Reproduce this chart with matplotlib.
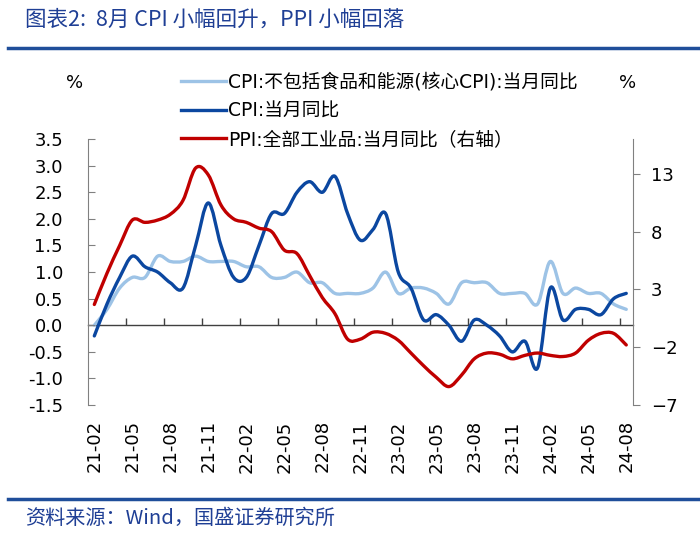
import numpy as np
import pandas as pd
import matplotlib
matplotlib.use("Agg")
import matplotlib.pyplot as plt
from matplotlib.path import Path
from matplotlib.patches import PathPatch
from matplotlib.lines import Line2D

plt.rcParams['font.family'] = ['DejaVu Sans', 'Noto Sans CJK SC']

# monthly, 2021-02 .. 2024-08
months = pd.period_range('2021-02', '2024-08', freq='M').strftime('%y-%m').tolist()

core_cpi = [0.0, 0.3, 0.7, 0.9, 0.9, 1.3, 1.2, 1.2, 1.3, 1.2, 1.2,
            1.2, 1.1, 1.1, 0.9, 0.9, 1.0, 0.8, 0.8, 0.6, 0.6, 0.6, 0.7,
            1.0, 0.6, 0.7, 0.7, 0.6, 0.4, 0.8, 0.8, 0.8, 0.6, 0.6, 0.6,
            0.4, 1.2, 0.6, 0.7, 0.6, 0.6, 0.4, 0.3]
cpi = [-0.2, 0.4, 0.9, 1.3, 1.1, 1.0, 0.8, 0.7, 1.5, 2.3, 1.5,
       0.9, 0.9, 1.5, 2.1, 2.1, 2.5, 2.7, 2.5, 2.8, 2.1, 1.6, 1.8,
       2.1, 1.0, 0.7, 0.1, 0.2, 0.0, -0.3, 0.1, 0.0, -0.2, -0.5, -0.3,
       -0.8, 0.7, 0.1, 0.3, 0.3, 0.2, 0.5, 0.6]
ppi = [1.7, 4.4, 6.8, 9.0, 8.8, 9.0, 9.5, 10.7, 13.5, 12.9, 10.3,
       9.1, 8.8, 8.3, 8.0, 6.4, 6.1, 4.2, 2.3, 0.9, -1.3, -1.3, -0.7,
       -0.8, -1.4, -2.5, -3.6, -4.6, -5.4, -4.4, -3.0, -2.5, -2.6, -3.0, -2.7,
       -2.5, -2.7, -2.8, -2.5, -1.4, -0.8, -0.8, -1.8]

tick_labels = ['21-02', '21-05', '21-08', '21-11', '22-02', '22-05', '22-08', '22-11',
               '23-02', '23-05', '23-08', '23-11', '24-02', '24-05', '24-08']
left_ticks = [-1.5, -1.0, -0.5, 0.0, 0.5, 1.0, 1.5, 2.0, 2.5, 3.0, 3.5]
right_ticks = [-7, -2, 3, 8, 13]

names = ['CPI:不包括食品和能源(核心CPI):当月同比', 'CPI:当月同比', 'PPI:全部工业品:当月同比（右轴）']
colors = ['#9DC3E6', '#0B47A0', '#C00000']


def smooth(x, y):
    # smoothed line like the spreadsheet: catmull-rom as bezier segments
    pts = np.column_stack([x, y]).astype(float)
    p = np.vstack([pts[0], pts, pts[-1]])
    verts = [pts[0]]
    codes = [Path.MOVETO]
    for i in range(1, len(p) - 2):
        c1 = p[i] + (p[i + 1] - p[i - 1]) / 6
        c2 = p[i + 1] - (p[i + 2] - p[i]) / 6
        verts += [c1, c2, p[i + 1]]
        codes += [Path.CURVE4] * 3
    return Path(verts, codes)


fig = plt.figure(figsize=(7, 5.33), dpi=100)
ax = fig.add_axes([0.1257, 0.240, 0.778, 0.499])
ax2 = ax.twinx()

x = np.arange(len(months))
lw = 2.4
ax.add_patch(PathPatch(smooth(x, core_cpi), fill=False, ec=colors[0], lw=lw, capstyle='round', joinstyle='round'))
ax.add_patch(PathPatch(smooth(x, cpi), fill=False, ec=colors[1], lw=lw, capstyle='round', joinstyle='round'))
ax2.add_patch(PathPatch(smooth(x, ppi), fill=False, ec=colors[2], lw=lw, capstyle='round', joinstyle='round'))

ax.set_xlim(-0.5, len(months) - 0.5)
ax.set_ylim(-1.5, 3.5)
ax2.set_ylim(-7, 16)

grey = '#808080'
for a in (ax, ax2):
    a.spines['top'].set_visible(False)
    a.spines['bottom'].set_visible(False)
ax.spines['right'].set_visible(False)
ax2.spines['left'].set_visible(False)
ax.spines['left'].set_color(grey)
ax2.spines['right'].set_color(grey)

ax.set_yticks(left_ticks)
ax.set_yticklabels([f'{v:.1f}' for v in left_ticks])
ax.tick_params(axis='y', direction='in', length=5, color=grey, labelsize=13, pad=18)
ax2.set_yticks(right_ticks)
ax2.tick_params(axis='y', direction='out', length=5, color=grey, labelsize=13, pad=8)

ax.set_xticks([months.index(t) for t in tick_labels])
ax.set_xticklabels(tick_labels, rotation=90, fontsize=13)
ax.tick_params(axis='x', length=0, pad=11)

# zero line with the small category ticks on it
zero_pos = (0 - (-1.5)) / 5.0
sec = ax.secondary_xaxis(zero_pos)
sec.set_xticks(np.arange(2.5, len(months) - 1, 3))
sec.set_xticklabels([])
sec.tick_params(axis='x', direction='in', length=5, color='#404040', width=1)
sec.spines['bottom'].set_color('#404040')
sec.spines['bottom'].set_linewidth(1)

fig.text(75 / 700, 1 - 83 / 533, '%', fontsize=13, ha='center', va='center')
fig.text(628 / 700, 1 - 83 / 533, '%', fontsize=13, ha='center', va='center')

handles = [Line2D([], [], color=c, lw=lw) for c in colors]
fig.legend(handles, names, loc='upper left', bbox_to_anchor=(181 / 700, 1 - 73 / 533),
           frameon=False, fontsize=13.5, handlelength=2.4, handletextpad=0.1,
           labelspacing=0.5, borderaxespad=0, borderpad=0)

title_blue = '#1F3F95'
fig.text(25 / 700, 1 - 20 / 533, '图表2:  8月 CPI 小幅回升，PPI 小幅回落', fontsize=15.5,
         color=title_blue, ha='left', va='center', style='italic',
         family=['Noto Sans CJK SC', 'DejaVu Sans'])
fig.add_artist(Line2D([8 / 700, 1], [1 - 48 / 533] * 2, color='#1F4E9A', lw=2.5))
fig.add_artist(Line2D([8 / 700, 1], [1 - 499 / 533] * 2, color='#1F4E9A', lw=2.5))
fig.text(25 / 700, 1 - 518 / 533, '资料来源：Wind，国盛证券研究所', fontsize=14.5,
         color=title_blue, ha='left', va='center', style='italic',
         family=['Noto Sans CJK SC', 'DejaVu Sans'])

fig.savefig('out.png', dpi=100)
